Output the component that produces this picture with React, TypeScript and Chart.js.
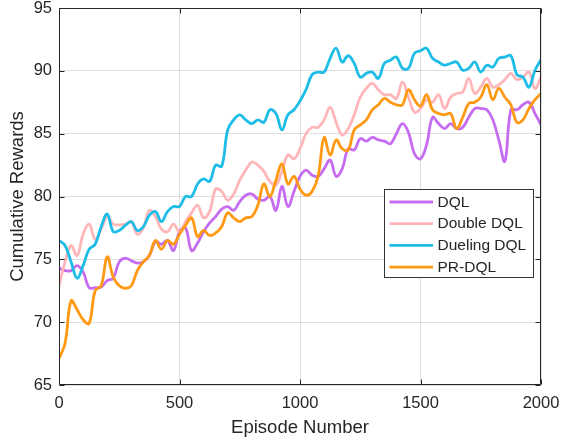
import React, { useEffect, useRef } from "react";
import { Chart, registerables } from "chart.js";

Chart.register(...registerables);

const episodes = [
  0, 25, 50, 75, 100, 125, 150, 175, 200, 225, 250, 275, 300, 325, 350, 375, 400, 425, 450, 475,
  500, 525, 550, 575, 600, 625, 650, 675, 700, 725, 750, 775, 800, 825, 850, 875, 900, 925, 950, 975,
  1000, 1025, 1050, 1075, 1100, 1125, 1150, 1175, 1200, 1225, 1250, 1275, 1300, 1325, 1350, 1375, 1400, 1425, 1450, 1475,
  1500, 1525, 1550, 1575, 1600, 1625, 1650, 1675, 1700, 1725, 1750, 1775, 1800, 1825, 1850, 1875, 1900, 1925, 1950, 1975,
  2000,
];

const dql = [
  74.3, 74.1, 74.1, 74.5, 74.0, 72.75, 72.75, 72.8, 73.3, 73.5, 74.8, 75.1, 74.9, 74.7, 74.8, 75.3, 76.4, 76.2, 76.5, 75.7,
  77.2, 77.5, 75.7, 76.3, 77.2, 77.9, 78.4, 79.0, 79.2, 78.9, 79.6, 80.1, 80.2, 79.8, 79.7, 80.0, 78.9, 80.8, 79.2, 80.4,
  81.6, 82.1, 81.7, 81.6, 82.2, 82.9, 81.6, 82.2, 83.8, 83.7, 84.6, 84.4, 84.7, 84.5, 84.4, 84.2, 85.0, 85.8, 85.1, 83.4,
  83.0, 84.1, 86.3, 85.8, 85.4, 85.8, 85.4, 85.5, 86.3, 87.0, 87.0, 86.9, 86.1, 84.5, 82.8, 86.9, 86.9, 87.3, 87.5, 86.6,
  85.7,
];

const doubleDql = [
  72.9, 74.8, 76.1, 75.3, 77.0, 77.8, 76.6, 77.4, 78.4, 77.8, 77.75, 77.8, 78.0, 77.0, 77.5, 78.9, 78.4, 77.4, 77.2, 77.8,
  77.2, 78.0, 78.7, 79.3, 78.3, 78.8, 80.6, 80.4, 79.7, 80.2, 81.3, 82.1, 82.75, 82.5, 82.0, 81.2, 80.9, 82.0, 83.3, 83.0,
  83.8, 85.0, 85.5, 85.5, 86.1, 87.1, 85.9, 84.9, 85.4, 86.5, 87.9, 88.6, 89.0, 88.5, 88.1, 88.1, 87.8, 89.1, 87.9, 86.7,
  87.0, 87.7, 87.5, 88.1, 87.0, 87.9, 88.2, 88.3, 89.4, 88.2, 88.7, 89.4, 88.7, 88.9, 89.3, 89.8, 89.3, 89.5, 89.9, 88.6,
  89.5,
];

const duelingDql = [
  76.5, 76.1, 74.8, 73.5, 74.5, 75.8, 76.2, 77.6, 78.6, 77.2, 77.3, 77.7, 78.0, 77.3, 77.6, 78.5, 78.8, 78.0, 78.8, 79.2,
  79.2, 80.0, 80.0, 81.0, 81.4, 81.2, 82.5, 82.4, 85.3, 86.1, 86.5, 86.1, 85.8, 86.1, 85.9, 86.9, 86.6, 85.3, 86.5, 86.9,
  87.6, 88.5, 89.7, 89.9, 89.9, 91.0, 91.8, 90.7, 91.2, 90.6, 89.5, 89.8, 89.9, 89.4, 90.6, 90.85, 91.1, 90.2, 90.2, 91.4,
  91.6, 91.8, 91.0, 90.7, 90.45, 90.6, 90.7, 90.05, 90.2, 90.7, 89.9, 90.45, 90.3, 91.0, 91.1, 91.2, 89.7, 89.5, 88.7, 90.05,
  90.9,
];

const prDql = [
  67.1, 68.3, 71.7, 71.0, 70.2, 69.9, 72.5, 72.9, 75.2, 73.6, 72.9, 72.7, 72.9, 74.1, 74.8, 75.3, 76.5, 75.8, 76.5, 76.2,
  77.0, 77.7, 78.3, 76.8, 77.3, 76.9, 77.1, 77.6, 78.7, 78.3, 78.0, 78.3, 78.4, 79.3, 81.0, 80.0, 81.3, 82.6, 81.0, 81.6,
  80.6, 80.1, 80.4, 81.6, 84.7, 83.3, 84.5, 83.8, 83.7, 85.3, 85.7, 86.1, 86.9, 87.3, 87.8, 87.5, 87.3, 87.3, 88.5, 87.7,
  87.2, 88.1, 86.9, 86.6, 86.5, 86.6, 85.4, 86.3, 87.4, 87.5, 87.9, 88.9, 87.7, 88.6, 87.9, 87.3, 85.9, 86.1, 87.0, 87.7,
  88.2,
];

const seriesNames = ["DQL", "Double DQL", "Dueling DQL", "PR-DQL"];
const seriesValues = [dql, doubleDql, duelingDql, prDql];
const seriesColors = ["#C56CF0", "#FFB6B9", "#1DBDE7", "#FF9914"];

const xTickValues = [0, 500, 1000, 1500, 2000];
const xTickLabels = ["0", "500", "1000", "1500", "2000"];
const yTickValues = [65, 70, 75, 80, 85, 90, 95];
const yTickLabels = ["65", "70", "75", "80", "85", "90", "95"];

const FONT = '"Liberation Sans", Arial, Helvetica, sans-serif';
const INK = "#262626";
const GRID = "rgba(38,38,38,0.15)";
const LINE_W = 2.8;

const framePlugin = {
  id: "frame",
  afterDatasetsDraw(chart: any) {
    const { ctx, chartArea } = chart;
    const { left, right, top, bottom } = chartArea;
    const xs = chart.scales.x;
    const ys = chart.scales.y;
    ctx.save();
    ctx.strokeStyle = INK;
    ctx.lineWidth = 1;
    const L = Math.round(left) + 0.5;
    const R = Math.round(right) - 0.5;
    const T = Math.round(top) + 0.5;
    const B = Math.round(bottom) - 0.5;
    ctx.beginPath();
    ctx.rect(L, T, R - L, B - T);
    ctx.stroke();
    const tl = 5;
    ctx.beginPath();
    xTickValues.forEach((v) => {
      const p = Math.round(xs.getPixelForValue(v)) + 0.5;
      ctx.moveTo(p, B);
      ctx.lineTo(p, B - tl);
      ctx.moveTo(p, T);
      ctx.lineTo(p, T + tl);
    });
    yTickValues.forEach((v) => {
      const p = Math.round(ys.getPixelForValue(v)) + 0.5;
      ctx.moveTo(L, p);
      ctx.lineTo(L + tl, p);
      ctx.moveTo(R, p);
      ctx.lineTo(R - tl, p);
    });
    ctx.stroke();

    // legend
    const boxL = Math.round(right) - 157 + 0.5;
    const boxT = Math.round(top) + 181 + 0.5;
    const boxW = 149;
    const boxH = 88;
    ctx.fillStyle = "#ffffff";
    ctx.fillRect(boxL, boxT, boxW, boxH);
    ctx.strokeStyle = "#333333";
    ctx.lineWidth = 1;
    ctx.strokeRect(boxL, boxT, boxW, boxH);
    ctx.font = `15.5px ${FONT}`;
    ctx.textBaseline = "middle";
    ctx.textAlign = "left";
    seriesNames.forEach((name, i) => {
      const cy = boxT + 12.5 + i * 21.7;
      ctx.strokeStyle = seriesColors[i];
      ctx.lineWidth = LINE_W;
      ctx.beginPath();
      ctx.moveTo(boxL + 5, cy);
      ctx.lineTo(boxL + 48.5, cy);
      ctx.stroke();
      ctx.fillStyle = INK;
      ctx.fillText(name, boxL + 53, cy + 0.5);
    });
    ctx.restore();
  },
};

export default function App() {
  const canvasRef = useRef<HTMLCanvasElement | null>(null);

  useEffect(() => {
    const canvas = canvasRef.current;
    if (!canvas) return;
    const datasets = seriesNames.map((name, i) => ({
      label: name,
      data: episodes.map((e, j) => ({ x: e, y: seriesValues[i][j] })),
      borderColor: seriesColors[i],
      backgroundColor: seriesColors[i],
      borderWidth: LINE_W,
      pointRadius: 0,
      tension: 0.4,
      fill: false,
      order: 4 - i,
    }));
    const chart = new Chart(canvas, {
      type: "line",
      data: { datasets },
      options: {
        animation: false,
        responsive: false,
        maintainAspectRatio: false,
        events: [],
        layout: { padding: { top: 8, right: 20, left: 0, bottom: 0 } },
        plugins: {
          legend: { display: false },
          tooltip: { enabled: false },
        },
        scales: {
          x: {
            type: "linear",
            min: 0,
            max: 2000,
            afterBuildTicks: (s: any) => {
              s.ticks = xTickValues.map((v) => ({ value: v }));
            },
            afterFit: (s: any) => {
              s.height = 57;
              s.paddingLeft = 0;
              s.paddingRight = 0;
            },
            grid: { color: GRID, lineWidth: 1, drawTicks: false },
            border: { display: false },
            ticks: {
              font: { family: FONT, size: 16.5 },
              color: INK,
              padding: 9,
              maxRotation: 0,
              autoSkip: false,
              callback: (v: any) => {
                const k = xTickValues.indexOf(Number(v));
                return k >= 0 ? xTickLabels[k] : "";
              },
            },
            title: {
              display: true,
              text: "Episode Number",
              font: { family: FONT, size: 18.5 },
              color: INK,
              padding: { top: 0, bottom: 3 },
            },
          },
          y: {
            type: "linear",
            min: 65,
            max: 95,
            afterBuildTicks: (s: any) => {
              s.ticks = yTickValues.map((v) => ({ value: v }));
            },
            afterFit: (s: any) => {
              s.width = 59;
              s.paddingTop = 0;
              s.paddingBottom = 0;
            },
            grid: { color: GRID, lineWidth: 1, drawTicks: false },
            border: { display: false },
            ticks: {
              font: { family: FONT, size: 16.5 },
              color: INK,
              padding: 7,
              autoSkip: false,
              callback: (v: any) => {
                const k = yTickValues.indexOf(Number(v));
                return k >= 0 ? yTickLabels[k] : "";
              },
            },
            title: {
              display: true,
              text: "Cumulative Rewards",
              font: { family: FONT, size: 18.5 },
              color: INK,
              padding: { top: 7, bottom: 0 },
            },
          },
        },
      },
      plugins: [framePlugin],
    } as any);
    return () => chart.destroy();
  }, []);

  return (
    <div style={{ position: "fixed", left: 0, top: 0, width: 561, height: 442, background: "#ffffff" }}>
      <canvas ref={canvasRef} width={561} height={442} style={{ display: "block", width: 561, height: 442 }} />
    </div>
  );
}
